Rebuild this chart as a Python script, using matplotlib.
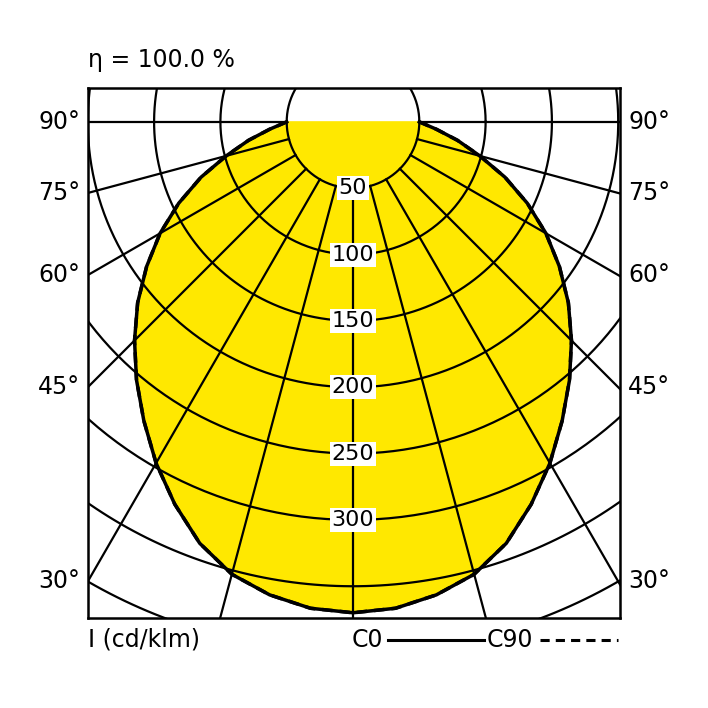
import numpy as np
import matplotlib
matplotlib.use("Agg")
import matplotlib.pyplot as plt

angles_deg = [0,5,10,15,20,25,30,35,40,45,50,55,60,65,70,75,80,85,90]
intensity_c0 = [370,368,362,353,338,318,297,275,254,233,212,190,168,145,122,99,80,63,50]
intensity_c90 = [370,368,362,353,338,318,297,275,254,233,212,190,168,145,122,99,80,63,50]
ring_values = [50,100,150,200,250,300,350,400,450]
ring_labels = [50,100,150,200,250,300]
side_labels = [90,75,60,45,30]

fig = plt.figure(figsize=(7.08,7.08), dpi=100)
ax = fig.add_axes([0.124,0.127,0.752,0.749])
ax.set_xlim(-200,201.5); ax.set_ylim(-374,25.7)
ax.set_xticks([]); ax.set_yticks([])
for s in ax.spines.values(): s.set_linewidth(1.8)

def curve(vals):
    a = np.radians(angles_deg); v = np.array(vals)
    xr = v*np.sin(a); yr = -v*np.cos(a)
    x = np.concatenate([-xr[::-1], xr[1:]]); y = np.concatenate([yr[::-1], yr[1:]])
    return x, y

x0,y0 = curve(intensity_c0)
ax.fill(x0,y0,color="#FFE800",zorder=1)
t = np.linspace(0,2*np.pi,400)
for r in ring_values:
    ax.plot(r*np.cos(t), r*np.sin(t), color="black", lw=1.6, zorder=2)
for a in range(-90,91,15):
    ar = np.radians(a)
    ax.plot([50*np.sin(ar),700*np.sin(ar)],[-50*np.cos(ar),-700*np.cos(ar)],color="black",lw=1.6,zorder=2)
ax.plot(x0,y0,color="black",lw=2.5,zorder=3)
x9,y9 = curve(intensity_c90)
ax.plot(x9,y9,color="black",lw=2.5,ls=(0,(3,2)),zorder=3)
for r in ring_labels:
    ax.text(0,-r,str(r),ha="center",va="center",fontsize=16,zorder=4,
            bbox=dict(facecolor="white",edgecolor="none",pad=1.5))

fs=17
fig.text(88/708,1-60/708,"η = 100.0 %",fontsize=fs,ha="left",va="center")
cx,cy=353,122
for d in side_labels:
    dy = 265/np.tan(np.radians(d)) if d<90 else 0
    yp = 1-(cy+dy)/708
    fig.text(80/708,yp,f"{d}°",fontsize=fs,ha="right",va="center")
    fig.text(628/708,yp,f"{d}°",fontsize=fs,ha="left",va="center")
yb = 1-640/708
fig.text(88/708,yb,"I (cd/klm)",fontsize=fs,ha="left",va="center")
fig.text(352/708,yb,"C0",fontsize=fs,ha="left",va="center")
fig.add_artist(plt.Line2D([388/708,484/708],[yb,yb],color="black",lw=2.2))
fig.text(487/708,yb,"C90",fontsize=fs,ha="left",va="center")
fig.add_artist(plt.Line2D([540/708,618/708],[yb,yb],color="black",lw=2.2,ls=(0,(3,2))))
fig.savefig("out.png",dpi=100)
